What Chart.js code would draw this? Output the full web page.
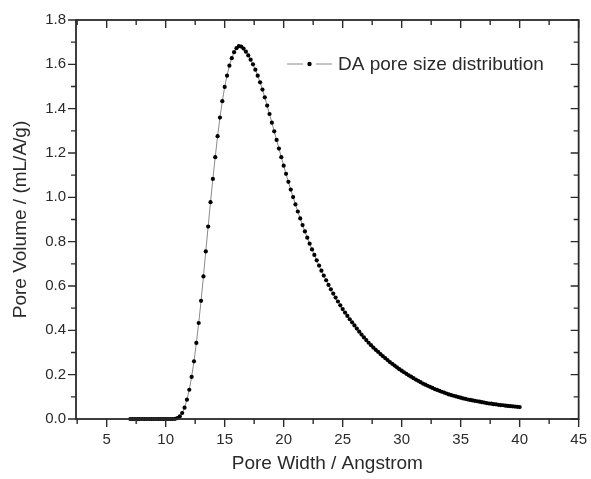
<!DOCTYPE html>
<html>
<head>
<meta charset="utf-8">
<script src="https://cdn.jsdelivr.net/npm/chart.js@4/dist/chart.umd.min.js"></script>
<style>
  html, body { margin: 0; padding: 0; background: #fff; }
  #wrap { width: 591px; height: 479px; }
</style>
</head>
<body>
<div id="wrap"><canvas id="chart" width="591" height="479"></canvas></div>
<script>
let seriesLabel = "DA pore size distribution";
let xTitle = "Pore Width / Angstrom";
let yTitle = "Pore Volume / (mL/A/g)";

let poreWidth = [
	7.0, 7.2, 7.4, 7.6, 7.8, 8.0, 8.2, 8.4, 8.6, 8.8,
	9.0, 9.2, 9.4, 9.6, 9.8, 10.0, 10.2, 10.4, 10.6, 10.8,
	11.0, 11.2, 11.4, 11.6, 11.8, 12.0, 12.2, 12.4, 12.6, 12.8,
	13.0, 13.2, 13.4, 13.6, 13.8, 14.0, 14.2, 14.4, 14.6, 14.8,
	15.0, 15.2, 15.4, 15.6, 15.8, 16.0, 16.2, 16.4, 16.6, 16.8,
	17.0, 17.2, 17.4, 17.6, 17.8, 18.0, 18.2, 18.4, 18.6, 18.8,
	19.0, 19.2, 19.4, 19.6, 19.8, 20.0, 20.2, 20.4, 20.6, 20.8,
	21.0, 21.2, 21.4, 21.6, 21.8, 22.0, 22.2, 22.4, 22.6, 22.8,
	23.0, 23.2, 23.4, 23.6, 23.8, 24.0, 24.2, 24.4, 24.6, 24.8,
	25.0, 25.2, 25.4, 25.6, 25.8, 26.0, 26.2, 26.4, 26.6, 26.8,
	27.0, 27.2, 27.4, 27.6, 27.8, 28.0, 28.2, 28.4, 28.6, 28.8,
	29.0, 29.2, 29.4, 29.6, 29.8, 30.0, 30.2, 30.4, 30.6, 30.8,
	31.0, 31.2, 31.4, 31.6, 31.8, 32.0, 32.2, 32.4, 32.6, 32.8,
	33.0, 33.2, 33.4, 33.6, 33.8, 34.0, 34.2, 34.4, 34.6, 34.8,
	35.0, 35.2, 35.4, 35.6, 35.8, 36.0, 36.2, 36.4, 36.6, 36.8,
	37.0, 37.2, 37.4, 37.6, 37.8, 38.0, 38.2, 38.4, 38.6, 38.8,
	39.0, 39.2, 39.4, 39.6, 39.8, 40.0
];

let poreVolume = [
	0, 0, 0, 0, 0, 0, 0, 0, 0, 0,
	0, 0, 0, 0, 0, 0, 0, 0, 0, 0.001,
	0.004, 0.012, 0.027, 0.051, 0.087, 0.132, 0.190, 0.260, 0.343, 0.433,
	0.533, 0.643, 0.756, 0.868, 0.978, 1.083, 1.181, 1.276, 1.360, 1.434,
	1.498, 1.549, 1.594, 1.628, 1.655, 1.673, 1.682, 1.680, 1.671, 1.657,
	1.640, 1.621, 1.600, 1.576, 1.549, 1.519, 1.486, 1.451, 1.414, 1.376,
	1.337, 1.298, 1.259, 1.220, 1.181, 1.143, 1.106, 1.070, 1.035, 1.001,
	0.968, 0.936, 0.905, 0.875, 0.846, 0.818, 0.791, 0.765, 0.740, 0.716,
	0.692, 0.669, 0.647, 0.626, 0.605, 0.585, 0.566, 0.548, 0.530, 0.513,
	0.496, 0.480, 0.465, 0.450, 0.436, 0.422, 0.408, 0.394, 0.381, 0.368,
	0.356, 0.344, 0.333, 0.322, 0.312, 0.303, 0.293, 0.284, 0.275, 0.266,
	0.257, 0.249, 0.241, 0.233, 0.225, 0.218, 0.211, 0.204, 0.197, 0.191,
	0.184, 0.178, 0.172, 0.166, 0.160, 0.155, 0.150, 0.145, 0.140, 0.135,
	0.131, 0.127, 0.123, 0.119, 0.115, 0.111, 0.108, 0.105, 0.102, 0.099,
	0.096, 0.093, 0.091, 0.088, 0.086, 0.084, 0.082, 0.080, 0.078, 0.076,
	0.074, 0.072, 0.070, 0.069, 0.067, 0.066, 0.064, 0.063, 0.062, 0.060,
	0.059, 0.058, 0.057, 0.056, 0.055, 0.054
];

let xTicks = [5, 10, 15, 20, 25, 30, 35, 40, 45];
let xMinor = [2.5, 7.5, 12.5, 17.5, 22.5, 27.5, 32.5, 37.5, 42.5];
let yTicks = [0, 0.2, 0.4, 0.6, 0.8, 1.0, 1.2, 1.4, 1.6, 1.8];
let yMinor = [0.1, 0.3, 0.5, 0.7, 0.9, 1.1, 1.3, 1.5, 1.7];

let FONT = "'Liberation Sans', Arial, sans-serif";
let INK = "#2a2a2a";

// frame round the plot, ticks out on left/bottom and in on top/right
const frameTicks = {
	id: 'frameTicks',
	afterDraw(chart) {
		const ctx = chart.ctx;
		const a = chart.chartArea;
		const x = chart.scales.x, y = chart.scales.y;
		ctx.save();
		ctx.strokeStyle = INK;
		ctx.lineWidth = 1.8;
		ctx.strokeRect(a.left, a.top, a.right - a.left, a.bottom - a.top);
		ctx.lineWidth = 1.4;
		ctx.beginPath();
		function xt(v, len) {
			let px = x.getPixelForValue(v);
			if (px < a.left - 0.5 || px > a.right + 0.5) return;
			ctx.moveTo(px, a.bottom); ctx.lineTo(px, a.bottom + len);
			ctx.moveTo(px, a.top); ctx.lineTo(px, a.top + len);
		}
		function yt(v, len) {
			let py = y.getPixelForValue(v);
			ctx.moveTo(a.left, py); ctx.lineTo(a.left - len, py);
			ctx.moveTo(a.right, py); ctx.lineTo(a.right - len, py);
		}
		xTicks.forEach(v => xt(v, 8));
		xMinor.forEach(v => xt(v, 5));
		yTicks.forEach(v => yt(v, 8));
		yMinor.forEach(v => yt(v, 5));
		ctx.stroke();
		ctx.restore();
	}
};

// legend inside the plot, Origin style
const innerLegend = {
	id: 'innerLegend',
	afterDatasetsDraw(chart) {
		const ctx = chart.ctx;
		const ds = chart.data.datasets[0];
		let lx = 287, ly = 64;
		ctx.save();
		ctx.strokeStyle = ds.borderColor;
		ctx.lineWidth = 1;
		ctx.beginPath();
		ctx.moveTo(lx, ly); ctx.lineTo(lx + 16, ly);
		ctx.moveTo(lx + 29, ly); ctx.lineTo(lx + 45, ly);
		ctx.stroke();
		ctx.fillStyle = ds.pointBackgroundColor;
		ctx.beginPath();
		ctx.arc(lx + 22.5, ly, 2.2, 0, Math.PI * 2);
		ctx.fill();
		ctx.fillStyle = INK;
		ctx.font = "19px " + FONT;
		ctx.textBaseline = 'middle';
		ctx.fillText(ds.label, lx + 51, ly + 1);
		ctx.restore();
	}
};

function init() {
	let points = poreWidth.map((w, i) => ({ x: w, y: poreVolume[i] }));

	new Chart(document.getElementById("chart"), {
		type: 'scatter',
		data: {
			datasets: [{
				label: seriesLabel,
				data: points,
				showLine: true,
				borderColor: "#8a8a8a",
				borderWidth: 1,
				pointRadius: 2.1,
				pointBorderWidth: 0,
				pointBackgroundColor: "#000",
				pointBorderColor: "#000",
				clip: false
			}]
		},
		options: {
			responsive: false,
			animation: false,
			layout: { padding: { top: 20, right: 10, left: 0, bottom: 0 } },
			plugins: {
				legend: { display: false },
				tooltip: { enabled: false }
			},
			scales: {
				x: {
					type: 'linear',
					min: 2.4,
					max: 45,
					afterBuildTicks: s => { s.ticks = xTicks.map(v => ({ value: v })); },
					afterFit: s => { s.height = 60; },
					grid: { display: false, drawTicks: true, tickLength: 8 },
					border: { display: false },
					ticks: {
						color: INK,
						font: { family: FONT, size: 15 },
						padding: 4,
						maxRotation: 0,
						callback: v => String(v)
					},
					title: {
						display: true,
						text: xTitle,
						color: INK,
						font: { family: FONT, size: 19 },
						padding: { top: 0, bottom: 4 }
					}
				},
				y: {
					type: 'linear',
					min: 0,
					max: 1.8,
					afterBuildTicks: s => { s.ticks = yTicks.map(v => ({ value: v })); },
					afterFit: s => { s.width = 76; },
					grid: { display: false, drawTicks: true, tickLength: 8 },
					border: { display: false },
					ticks: {
						color: INK,
						font: { family: FONT, size: 15 },
						padding: 2,
						callback: v => Number(v).toFixed(1)
					},
					title: {
						display: true,
						text: yTitle,
						color: INK,
						font: { family: FONT, size: 19 },
						padding: { top: 9, bottom: 0 }
					}
				}
			}
		},
		plugins: [frameTicks, innerLegend]
	});
}

init();
</script>
</body>
</html>
